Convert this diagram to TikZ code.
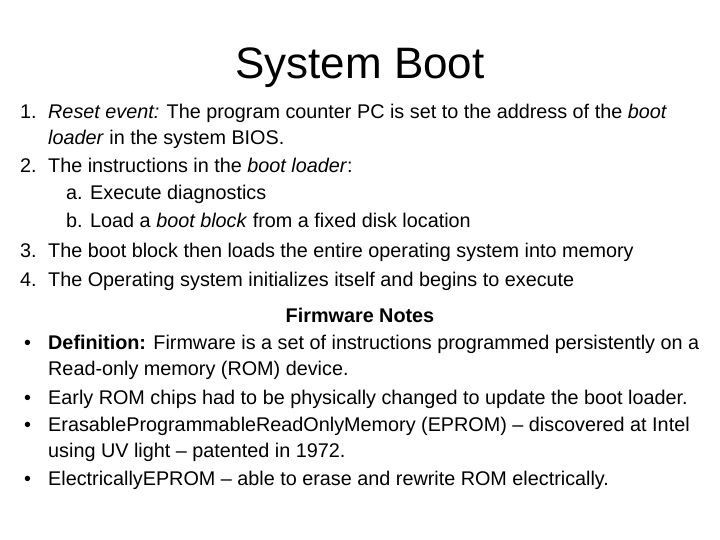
\documentclass[tikz,border=0pt]{standalone}
\usepackage{fontspec}
\setmainfont{Liberation Sans}
\usetikzlibrary{positioning}
\tikzstyle{line}  = [anchor=base west, inner sep=0pt, font=\fontsize{19.8}{22}\selectfont]
\begin{document}
\begin{tikzpicture}[x=1pt,y=-1pt]
		\useasboundingbox (0,0) rectangle (720,540);
		\node[font=\fontsize{44}{48}\selectfont] (title) at (360,68) {System Boot};

		\node[line] (n1)  at (20,119) {1.};
		\node[line] (t1)  at (48,119) {\textit{Reset event:} The program counter PC is set to the address of the \textit{boot}};
		\node[line] (t1b) at (48,145) {\textit{loader} in the system BIOS.};
		\node[line] (n2)  at (20,173) {2.};
		\node[line] (t2)  at (48,173) {The instructions in the \textit{boot loader}:};
		\node[line] (na)  at (66,200) {a.};
		\node[line] (ta)  at (90,200) {Execute diagnostics};
		\node[line] (nb)  at (66,228) {b.};
		\node[line] (tb)  at (90,228) {Load a \textit{boot block} from a fixed disk location};
		\node[line] (n3)  at (20,257) {3.};
		\node[line] (t3)  at (48,257) {The boot block then loads the entire operating system into memory};
		\node[line] (n4)  at (20,286) {4.};
		\node[line] (t4)  at (48,286) {The Operating system initializes itself and begins to execute};

		\node[font=\fontsize{19.8}{22}\bfseries\selectfont, anchor=base, inner sep=0pt] (notes) at (360,322) {Firmware Notes};
		\foreach \y in {349,404,431,485}
			\node[line] at (24,\y) {\textbullet};
		\node[line] (b1)  at (48,349) {\textbf{Definition:} Firmware is a set of instructions programmed persistently on a};
		\node[line] (b1b) at (48,375) {Read-only memory (ROM) device.};
		\node[line] (b2)  at (48,404) {Early ROM chips had to be physically changed to update the boot loader.};
		\node[line] (b3)  at (48,431) {Erasable\-Programmable\-Read\-Only\-Memory (EPROM) -- discovered at Intel};
		\node[line] (b3b) at (48,457) {using UV light -- patented in 1972.};
		\node[line] (b4)  at (48,485) {Electrically\-EPROM -- able to erase and rewrite ROM electrically.};
	\end{tikzpicture}
\end{document}
